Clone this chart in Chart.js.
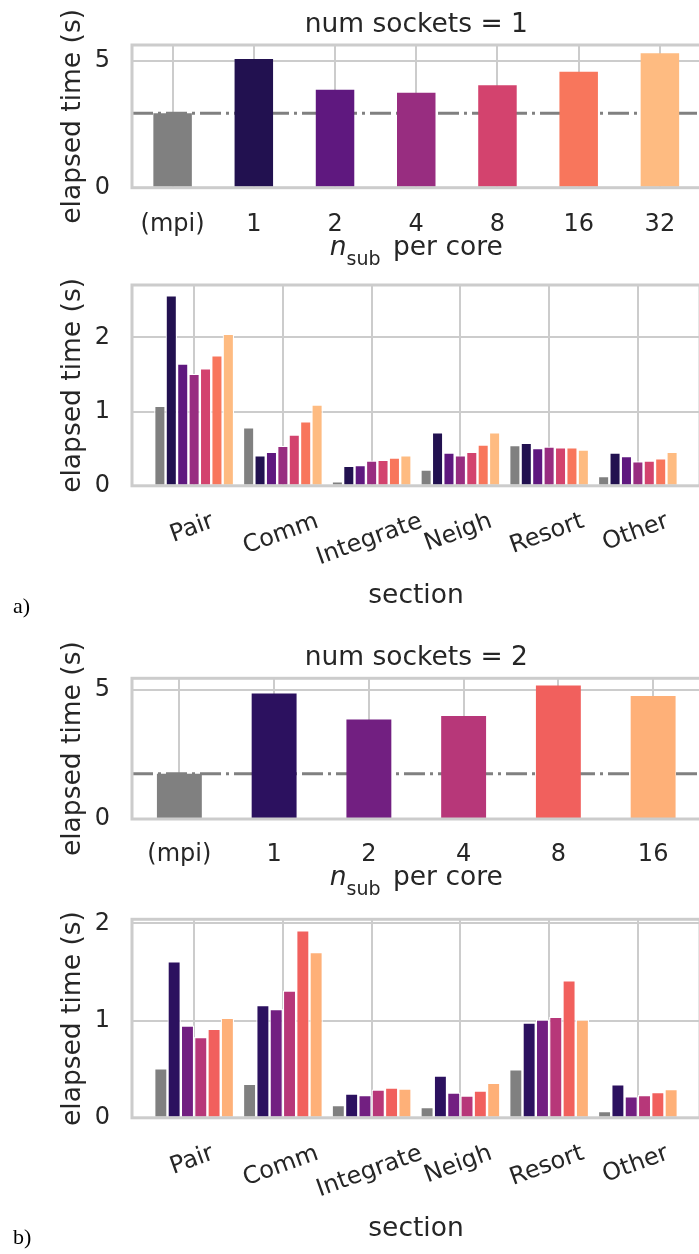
<!DOCTYPE html>
<html><head><meta charset="utf-8">
<script src="https://cdn.jsdelivr.net/npm/chart.js@4.4.1/dist/chart.umd.min.js"></script>
<style>
html,body{margin:0;padding:0;background:#fff;overflow:hidden;width:699px;height:1254px;position:relative;}
canvas{position:absolute;left:0;}
</style></head><body>
<canvas id="c1"></canvas>
<canvas id="c2"></canvas>
<canvas id="c3"></canvas>
<canvas id="c4"></canvas>
<script>
// ---------- data: num sockets = 1 ----------
const nsubLabels1 = ['(mpi)', '1', '2', '4', '8', '16', '32'];
const totalTime1 = [2.94, 5.08, 3.86, 3.75, 4.04, 4.57, 5.30];
const mpiLine1 = 2.94;
const sections = ['Pair', 'Comm', 'Integrate', 'Neigh', 'Resort', 'Other'];
const sock1_mpi = [1.08, 0.79, 0.06, 0.22, 0.55, 0.13];
const sock1_n1  = [2.57, 0.41, 0.27, 0.72, 0.58, 0.45];
const sock1_n2  = [1.65, 0.46, 0.28, 0.45, 0.51, 0.40];
const sock1_n4  = [1.51, 0.54, 0.34, 0.41, 0.53, 0.33];
const sock1_n8  = [1.585, 0.69, 0.35, 0.46, 0.52, 0.34];
const sock1_n16 = [1.76, 0.87, 0.38, 0.555, 0.52, 0.37];
const sock1_n32 = [2.05, 1.095, 0.41, 0.72, 0.49, 0.46];
// ---------- data: num sockets = 2 ----------
const nsubLabels2 = ['(mpi)', '1', '2', '4', '8', '16'];
const totalTime2 = [1.75, 4.86, 3.86, 3.99, 5.17, 4.77];
const mpiLine2 = 1.75;
const sock2_mpi = [0.51, 0.35, 0.13, 0.11, 0.50, 0.07];
const sock2_n1  = [1.61, 1.16, 0.25, 0.435, 0.98, 0.345];
const sock2_n2  = [0.95, 1.12, 0.235, 0.26, 1.01, 0.22];
const sock2_n4  = [0.83, 1.31, 0.29, 0.23, 1.04, 0.235];
const sock2_n8  = [0.915, 1.93, 0.31, 0.28, 1.415, 0.265];
const sock2_n16 = [1.03, 1.705, 0.30, 0.36, 1.01, 0.295];
// ticks
const yTicksTotal = [0, 5];
const yTicksSection = [0, 1, 2];

// ---------- style ----------
const GREY = '#808080';
const magma6 = ['#221150', '#5f187f', '#982d80', '#d3436e', '#f8765c', '#febb81'];
const magma5 = ['#2c115f', '#721f81', '#b73779', '#f1605d', '#feb078'];
const FONT = '"DejaVu Sans", sans-serif';
const TXT = '#262626';
const GRID = '#cccccc';
const CW = 704;

function drawNsub(ctx, cx, base) {
  const fMain = '26.5px ' + FONT, fIt = 'italic 26.5px ' + FONT, fSub = '19px ' + FONT;
  ctx.font = fIt; const wn = ctx.measureText('n').width;
  ctx.font = fSub; const ws = ctx.measureText('sub').width;
  ctx.font = fMain; const wr = ctx.measureText(' per core').width;
  const gap = 4;
  let x = cx - (wn + ws + gap + wr) / 2;
  ctx.textAlign = 'left'; ctx.textBaseline = 'alphabetic';
  ctx.font = fIt; ctx.fillText('n', x, base); x += wn;
  ctx.font = fSub; ctx.fillText('sub', x, base + 10.5); x += ws + gap;
  ctx.font = fMain; ctx.fillText(' per core', x, base);
}

function makeChart(id, cfg) {
  const cv = document.getElementById(id);
  cv.width = CW; cv.height = cfg.h;
  cv.style.top = cfg.top + 'px';
  cv.style.width = CW + 'px'; cv.style.height = cfg.h + 'px';
  const padTop = cfg.areaTop - cfg.top;
  const padBottom = cfg.h - (cfg.areaBottom - cfg.top);
  const deco = {
    id: 'deco',
    afterDatasetsDraw(chart) {
      const ctx = chart.ctx, a = chart.chartArea;
      ctx.save();
      ctx.strokeStyle = GRID; ctx.lineWidth = 3;
      ctx.strokeRect(a.left, a.top, a.right - a.left, a.bottom - a.top);
      ctx.restore();
    },
    afterDraw(chart) {
      const ctx = chart.ctx, a = chart.chartArea, xs = chart.scales.x;
      const cx = (a.left + a.right) / 2;
      ctx.save();
      ctx.fillStyle = TXT;
      ctx.textBaseline = 'alphabetic';
      if (cfg.title) {
        ctx.font = '26.5px ' + FONT; ctx.textAlign = 'center';
        ctx.fillText(cfg.title, cx, a.top - 13.5);
      }
      // y title
      ctx.save();
      ctx.translate(80, (a.top + a.bottom) / 2);
      ctx.rotate(-Math.PI / 2);
      ctx.font = '26.5px ' + FONT; ctx.textAlign = 'center';
      ctx.fillText('elapsed time (s)', 0, 0);
      ctx.restore();
      // x tick labels
      ctx.font = '24px ' + FONT;
      const th = 20 * Math.PI / 180, A = 0.76 * 24;
      cfg.xLabels.forEach((lab, i) => {
        const px = xs.getPixelForValue(i);
        if (cfg.rotate) {
          const w = ctx.measureText(lab).width;
          const cy = (cfg.tickTop - cfg.top) + (w / 2) * Math.sin(th) + A * Math.cos(th);
          ctx.save(); ctx.translate(px, cy); ctx.rotate(-th);
          ctx.textAlign = 'center'; ctx.fillText(lab, 0, 0); ctx.restore();
        } else {
          ctx.textAlign = 'center';
          ctx.fillText(lab, px, cfg.tickBase - cfg.top);
        }
      });
      // x title
      if (cfg.nsub) {
        drawNsub(ctx, cx, cfg.xTitleBase - cfg.top);
      } else {
        ctx.font = '26.5px ' + FONT; ctx.textAlign = 'center';
        ctx.fillText('section', cx, cfg.xTitleBase - cfg.top);
      }
      if (cfg.panel) {
        ctx.fillStyle = '#000';
        ctx.font = '22px "Liberation Serif", serif'; ctx.textAlign = 'left';
        ctx.fillText(cfg.panel, 13, cfg.panelBase - cfg.top);
      }
      ctx.restore();
    }
  };
  return new Chart(cv, {
    type: 'bar',
    data: { datasets: cfg.datasets },
    options: {
      responsive: false, animation: false, devicePixelRatio: 1, events: [],
      layout: { autoPadding: false, padding: { left: 0, right: CW - cfg.areaRight, top: padTop, bottom: padBottom } },
      plugins: { legend: { display: false }, tooltip: { enabled: false }, title: { display: false } },
      scales: {
        x: {
          type: 'linear', min: cfg.xmin, max: cfg.xmax, offset: false,
          afterBuildTicks: s => { s.ticks = cfg.xLabels.map((_, i) => ({ value: i })); },
          afterFit: s => { s.height = 0; s.paddingLeft = 0; s.paddingRight = 0; },
          grid: { color: GRID, lineWidth: 2, drawTicks: false, offset: false },
          border: { display: false },
          ticks: { display: false }
        },
        y: {
          min: 0, max: cfg.ymax,
          afterBuildTicks: s => { s.ticks = cfg.yTicks.map(v => ({ value: v })); },
          afterFit: s => { s.width = cfg.areaLeft; s.paddingTop = 0; s.paddingBottom = 0; },
          grid: { color: GRID, lineWidth: 2, drawTicks: false },
          border: { display: false },
          ticks: { font: { family: 'DejaVu Sans', size: 24 }, color: TXT, padding: 22, callback: v => String(v) }
        }
      }
    },
    plugins: [deco]
  });
}

function pts(arr) { return arr.map((v, i) => ({ x: i, y: v })); }
function totalSets(values, colors, line, n) {
  return [
    { type: 'bar', data: pts(values), backgroundColor: colors, borderWidth: 0,
      categoryPercentage: 0.474, barPercentage: 1, order: 0 },
    { type: 'line', data: [{ x: -0.5, y: line }, { x: n - 0.5, y: line }], borderColor: GREY,
      borderWidth: 3, borderDash: [21, 5, 3, 5], pointRadius: 0, order: 10 }
  ];
}
function sectionSets(series, colors) {
  return series.map((s, k) => ({
    type: 'bar', data: pts(s), backgroundColor: colors[k], borderColor: '#ffffff',
    borderWidth: 1.2, borderSkipped: 'start', categoryPercentage: 0.9, barPercentage: 1
  }));
}

makeChart('c1', {
  top: 0, h: 275, areaTop: 45, areaBottom: 187.7, areaLeft: 132, areaRight: 700.5,
  xmin: -0.5, xmax: 6.5, ymax: 5.63, yTicks: yTicksTotal, xLabels: nsubLabels1,
  title: 'num sockets = 1', tickBase: 230.5, nsub: true, xTitleBase: 254.7,
  datasets: totalSets(totalTime1, [GREY].concat(magma6), mpiLine1, nsubLabels1.length)
});
makeChart('c2', {
  top: 265, h: 370, areaTop: 285, areaBottom: 485.8, areaLeft: 132, areaRight: 700,
  xmin: -0.7, xmax: 5.7, ymax: 2.708, yTicks: yTicksSection, xLabels: sections,
  rotate: true, tickTop: 509.5, xTitleBase: 603, panel: 'a)', panelBase: 613,
  datasets: sectionSets([sock1_mpi, sock1_n1, sock1_n2, sock1_n4, sock1_n8, sock1_n16, sock1_n32], [GREY].concat(magma6))
});
makeChart('c3', {
  top: 632, h: 268, areaTop: 678.3, areaBottom: 819, areaLeft: 132, areaRight: 700.5,
  xmin: -0.5, xmax: 5.5, ymax: 5.453, yTicks: yTicksTotal, xLabels: nsubLabels2,
  title: 'num sockets = 2', tickBase: 860.5, nsub: true, xTitleBase: 884.7,
  datasets: totalSets(totalTime2, [GREY].concat(magma5), mpiLine2, nsubLabels2.length)
});
makeChart('c4', {
  top: 898, h: 356, areaTop: 919.3, areaBottom: 1117.8, areaLeft: 132, areaRight: 700,
  xmin: -0.7, xmax: 5.7, ymax: 2.042, yTicks: yTicksSection, xLabels: sections,
  rotate: true, tickTop: 1141.5, xTitleBase: 1236, panel: 'b)', panelBase: 1244,
  datasets: sectionSets([sock2_mpi, sock2_n1, sock2_n2, sock2_n4, sock2_n8, sock2_n16], [GREY].concat(magma5))
});
</script>
</body></html>
